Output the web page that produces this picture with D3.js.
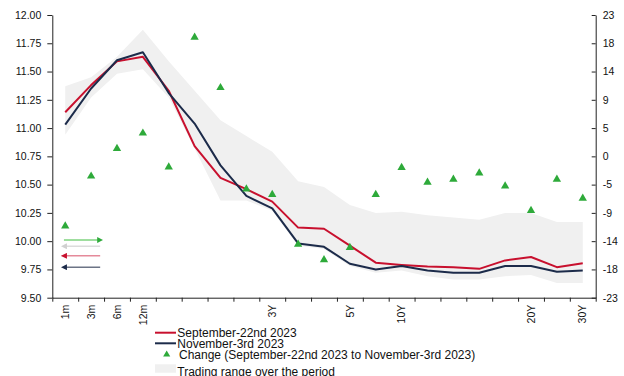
<!DOCTYPE html>
<html>
<head>
<meta charset="utf-8">
<script src="https://cdn.jsdelivr.net/npm/d3@7"></script>
<style>
  html, body { margin: 0; padding: 0; background: #fff; }
  svg { display: block; font-family: "Liberation Sans", Arial, sans-serif; }
</style>
</head>
<body>
<svg id="chart" width="624" height="376"></svg>
<script>
// Yield curve tenors (only some are labelled on the axis)
const tenors = ["1m","3m","6m","12m","","","","","3Y","","","5Y","","10Y","","","","","20Y","","30Y"];

// Curve levels (%)
const sep22 = [11.14, 11.38, 11.59, 11.63, 11.33, 10.84, 10.56, 10.46, 10.35, 10.12, 10.11, 9.96, 9.81, 9.79, 9.775, 9.77, 9.755, 9.83, 9.86, 9.77, 9.805];
const nov3  = [11.03, 11.35, 11.60, 11.67, 11.31, 11.04, 10.67, 10.40, 10.29, 9.98, 9.95, 9.80, 9.75, 9.78, 9.74, 9.72, 9.72, 9.78, 9.78, 9.73, 9.74];

// Change between the two dates (bp, right axis)
const changeBp = [-11.2, -3.1, 1.4, 3.9, -1.6, 19.5, 11.3, -5.2, -6.1, -14.2, -16.7, -14.7, -6.1, -1.7, -4.1, -3.6, -2.6, -4.7, -8.7, -3.6, -6.7];

// Trading range over the period (%)
const rangeHigh = [11.37, 11.45, 11.63, 11.87, 11.59, 11.33, 11.07, 10.93, 10.79, 10.53, 10.48, 10.32, 10.25, 10.26, 10.23, 10.21, 10.19, 10.25, 10.25, 10.17, 10.17];
const rangeLow  = [10.94, 11.27, 11.48, 11.52, 11.27, 10.82, 10.36, 10.36, 10.27, 9.96, 9.93, 9.78, 9.72, 9.74, 9.69, 9.66, 9.66, 9.69, 9.70, 9.63, 9.63];

// Axis tick values
const leftTicks = d3.range(0, 11).map(i => 9.5 + i * 0.25);
const rightTicks = d3.range(0, 11).map(i => -23 + i * 4.6);

// Series names
const seriesNames = ["September-22nd 2023", "November-3rd 2023", "Change (September-22nd 2023 to November-3rd 2023)", "Trading range over the period"];

// Marker levels for the axis-direction arrows (left axis units)
const arrowLevels = [10.01, 9.955, 9.87, 9.77];

const colors = { sep: "#c8102e", nov: "#1c2b4a", change: "#2eaa3a", range: "#f0f0f0" };

const svg = d3.select("#chart");
const margin = { left: 52.3, right: 595.7, top: 15, bottom: 297.7 };

const x = d3.scaleLinear().domain([0, tenors.length]).range([margin.left, margin.right]);
const xc = i => x(i + 0.5);
const yL = d3.scaleLinear().domain([9.5, 12]).range([margin.bottom, margin.top]);
const yR = d3.scaleLinear().domain([-23, 23]).range([margin.bottom, margin.top]);

// Trading range band
const band = d3.area()
  .x((d, i) => xc(i))
  .y0((d, i) => yL(rangeLow[i]))
  .y1((d, i) => yL(rangeHigh[i]));
svg.append("path").datum(rangeHigh).attr("d", band).attr("fill", colors.range);

// Curves
const line = d3.line().x((d, i) => xc(i)).y(d => yL(d));
svg.append("path").datum(sep22).attr("d", line)
  .attr("fill", "none").attr("stroke", colors.sep).attr("stroke-width", 2).attr("stroke-linejoin", "round");
svg.append("path").datum(nov3).attr("d", line)
  .attr("fill", "none").attr("stroke", colors.nov).attr("stroke-width", 2).attr("stroke-linejoin", "round");

// Change markers
const tri = d3.symbol().type(d3.symbolTriangle).size(30);
svg.append("g").selectAll("path").data(changeBp).join("path")
  .attr("d", tri)
  .attr("transform", (d, i) => `translate(${xc(i)},${yR(d) + 0.8})`)
  .attr("fill", colors.change);

// Axes
const axisColor = "#222";
const gL = svg.append("g").attr("transform", `translate(${margin.left},0)`)
  .call(d3.axisLeft(yL).tickValues(leftTicks).tickFormat(d3.format(".2f")).tickSize(5).tickSizeOuter(0).tickPadding(6));
const gR = svg.append("g").attr("transform", `translate(${margin.right},0)`)
  .call(d3.axisRight(yR).tickValues(rightTicks).tickFormat(v => String(Math.round(v) + 0)).tickSize(-4).tickSizeOuter(0).tickPadding(7));
const gX = svg.append("g").attr("transform", `translate(0,${margin.bottom})`)
  .call(d3.axisBottom(x).tickValues(d3.range(0, tenors.length + 1)).tickFormat("").tickSize(4).tickSizeOuter(0));

[gL, gR, gX].forEach(g => {
  g.selectAll("path.domain").attr("stroke", axisColor);
  g.selectAll("line").attr("stroke", axisColor);
  g.selectAll("text").attr("fill", "#111").style("font-size", "10.5px").style("font-family", "'Liberation Sans', Arial, sans-serif");
});

// Tenor labels, rotated
svg.append("g").selectAll("text").data(tenors.map((t, i) => ({ t, i })).filter(d => d.t !== ""))
  .join("text")
  .attr("transform", d => `translate(${xc(d.i)},${margin.bottom + 7}) rotate(-90)`)
  .attr("text-anchor", "end")
  .attr("dy", "0.35em")
  .style("font-size", "10.5px")
  .attr("fill", "#111")
  .text(d => d.t);

// Axis-direction arrows
const defs = svg.append("defs");
function marker(id, color) {
  defs.append("marker").attr("id", id).attr("viewBox", "0 0 10 10")
    .attr("refX", 5).attr("refY", 5).attr("markerWidth", 6).attr("markerHeight", 6)
    .attr("markerUnits", "userSpaceOnUse").attr("orient", "auto")
    .append("path").attr("d", "M0,0 L10,5 L0,10 Z").attr("fill", color);
}
const arrows = [
  { id: "ah-g", line: "#7fd37f", head: colors.change, right: true },
  { id: "ah-l", line: "#dcdcdc", head: "#d0d0d0", right: false },
  { id: "ah-r", line: "#e58a9a", head: colors.sep, right: false },
  { id: "ah-n", line: "#6c7486", head: colors.nov, right: false }
];
arrows.forEach((a, k) => {
  marker(a.id, a.head);
  const xa = x(0.45), xb = x(1.85);
  const yy = yL(arrowLevels[k]);
  svg.append("line")
    .attr("x1", a.right ? xa : xb).attr("x2", a.right ? xb : xa)
    .attr("y1", yy).attr("y2", yy)
    .attr("stroke", a.line).attr("stroke-width", 1.5)
    .attr("marker-end", `url(#${a.id})`);
});

// Legend: symbol rows and their text baselines
const lg = svg.append("g").attr("transform", "translate(155,0)");
const symbolY = [332.7, 343.3, 354, 368.5];
const textY = [337.3, 348, 358.8, 376];
lg.append("line").attr("x1", 0).attr("x2", 21).attr("y1", symbolY[0]).attr("y2", symbolY[0]).attr("stroke", colors.sep).attr("stroke-width", 2);
lg.append("line").attr("x1", 0).attr("x2", 21).attr("y1", symbolY[1]).attr("y2", symbolY[1]).attr("stroke", colors.nov).attr("stroke-width", 2);
lg.append("path").attr("d", d3.symbol().type(d3.symbolTriangle).size(22)).attr("transform", `translate(11.7,${symbolY[2] + 0.5})`).attr("fill", colors.change);
lg.append("rect").attr("x", 0).attr("y", symbolY[3] - 4.2).attr("width", 21).attr("height", 8.4).attr("fill", colors.range);
lg.selectAll("text.lbl").data(seriesNames).join("text").attr("class", "lbl")
  .attr("x", (d, i) => i === 2 ? 24 : 22.3)
  .attr("y", (d, i) => textY[i])
  .style("font-size", "12px")
  .attr("fill", "#111")
  .text(d => d);
</script>
</body>
</html>
